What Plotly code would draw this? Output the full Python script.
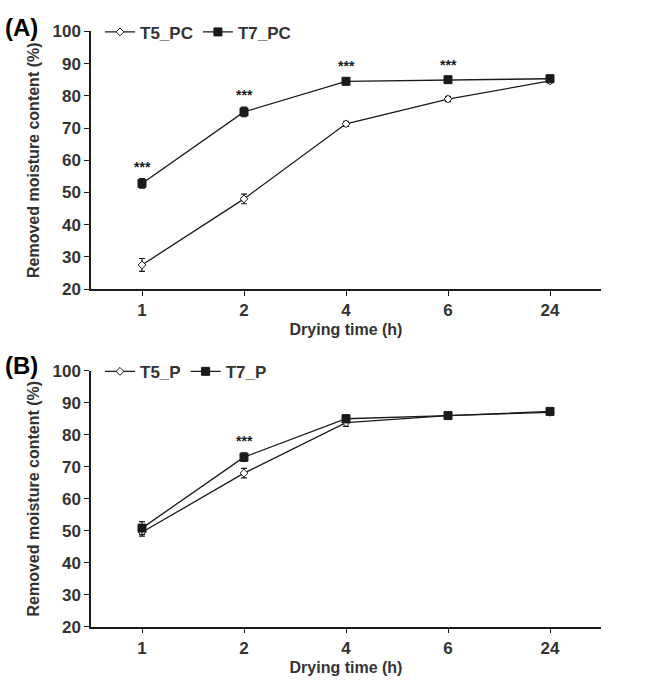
import plotly.graph_objects as go

times = ["1", "2", "4", "6", "24"]

t5_pc = [27.5, 48.0, 71.3, 79.0, 84.6]
t5_pc_err = [2.0, 1.5, 0.8, 0.8, 0.5]
t7_pc = [52.8, 75.0, 84.5, 85.0, 85.3]
t7_pc_err = [1.5, 1.5, 1.0, 0.8, 0.5]
sig_a = ["***", "***", "***", "***", ""]

t5_p = [49.5, 68.0, 83.8, 86.0, 87.0]
t5_p_err = [1.2, 1.5, 1.2, 0.8, 0.6]
t7_p = [50.8, 73.0, 85.0, 86.0, 87.3]
t7_p_err = [2.0, 1.3, 1.2, 0.8, 0.6]
sig_b = ["", "***", "", "", ""]

font_family = "Liberation Sans"
black = "#1a1a1a"

fig = go.Figure()

def add_pair(t5, t5e, t7, t7e, names, xa, ya, legend):
    fig.add_trace(go.Scatter(
        x=times, y=t5, name="<b>" + names[0] + "</b>", mode="lines+markers",
        line=dict(color=black, width=1.3),
        marker=dict(symbol="diamond", size=6, color="white", line=dict(color=black, width=1)),
        error_y=dict(type="data", array=t5e, color=black, thickness=1.2, width=3),
        xaxis=xa, yaxis=ya, legend=legend))
    fig.add_trace(go.Scatter(
        x=times, y=t7, name="<b>" + names[1] + "</b>", mode="lines+markers",
        line=dict(color=black, width=1.3),
        marker=dict(symbol="square", size=8, color=black, line=dict(color=black, width=1)),
        error_y=dict(type="data", array=t7e, color=black, thickness=1.2, width=3),
        xaxis=xa, yaxis=ya, legend=legend))

add_pair(t5_pc, t5_pc_err, t7_pc, t7_pc_err, ["T5_PC", "T7_PC"], "x", "y", "legend")
add_pair(t5_p, t5_p_err, t7_p, t7_p_err, ["T5_P", "T7_P"], "x2", "y2", "legend2")

annotations = []
for i, s in enumerate(sig_a):
    if s:
        annotations.append(dict(x=i, y=t7_pc[i] + t7_pc_err[i], xref="x", yref="y",
                                text="<b>" + s + "</b>", showarrow=False, yshift=12,
                                font=dict(family=font_family, size=14, color=black)))
for i, s in enumerate(sig_b):
    if s:
        annotations.append(dict(x=i, y=t7_p[i] + t7_p_err[i], xref="x2", yref="y2",
                                text="<b>" + s + "</b>", showarrow=False, yshift=12,
                                font=dict(family=font_family, size=14, color=black)))

annotations.append(dict(x=0.004, y=1 - 19 / 693, xref="paper", yref="paper", text="<b>(A)</b>",
                        showarrow=False, xanchor="left", yanchor="middle",
                        font=dict(family=font_family, size=24, color="black")))
annotations.append(dict(x=0.004, y=1 - 367 / 693, xref="paper", yref="paper", text="<b>(B)</b>",
                        showarrow=False, xanchor="left", yanchor="middle",
                        font=dict(family=font_family, size=24, color="black")))

tickfont = dict(family=font_family, size=17, color="#333333")
titlefont = dict(family=font_family, size=16, color="#333333")

xdom = [91 / 661, 601 / 661]
xcommon = dict(type="category", range=[-0.5, 4.5], showline=True, linecolor=black, linewidth=1.5,
               ticks="outside", ticklen=5, tickcolor=black, tickwidth=1.2, showgrid=False,
               zeroline=False, tickfont=tickfont, tickprefix="<b>", ticksuffix="</b>",
               domain=xdom)
ycommon = dict(range=[20, 100], dtick=10, showline=True, linecolor=black, linewidth=1.5,
               ticks="outside", ticklen=5, tickcolor=black, tickwidth=1.2, showgrid=False,
               zeroline=False, tickfont=tickfont, tickprefix="<b>", ticksuffix="</b>")

fig.update_layout(
    width=661, height=693,
    margin=dict(l=0, r=0, t=0, b=0),
    paper_bgcolor="white", plot_bgcolor="white",
    font=dict(family=font_family, color=black),
    xaxis=dict(**xcommon, anchor="y",
               title=dict(text="<b>Drying time (h)</b>", font=titlefont, standoff=5)),
    yaxis=dict(**ycommon, anchor="x", domain=[1 - 288 / 693, 1 - 23 / 693],
               title=dict(text="<b>Removed moisture content (%)</b>", font=titlefont, standoff=9)),
    xaxis2=dict(**xcommon, anchor="y2",
                title=dict(text="<b>Drying time (h)</b>", font=titlefont, standoff=5)),
    yaxis2=dict(**ycommon, anchor="x2", domain=[1 - 635 / 693, 1 - 372 / 693],
                title=dict(text="<b>Removed moisture content (%)</b>", font=titlefont, standoff=9)),
    legend=dict(orientation="h", x=100 / 661, y=1 - 24 / 693, xanchor="left", yanchor="middle",
                font=dict(family=font_family, size=17, color="#333333"), bgcolor="rgba(0,0,0,0)",
                itemwidth=30, tracegroupgap=0),
    legend2=dict(orientation="h", x=100 / 661, y=1 - 373 / 693, xanchor="left", yanchor="middle",
                 font=dict(family=font_family, size=17, color="#333333"), bgcolor="rgba(0,0,0,0)",
                 itemwidth=30, tracegroupgap=0),
    annotations=annotations,
    showlegend=True,
)

fig.write_html("out.html")
